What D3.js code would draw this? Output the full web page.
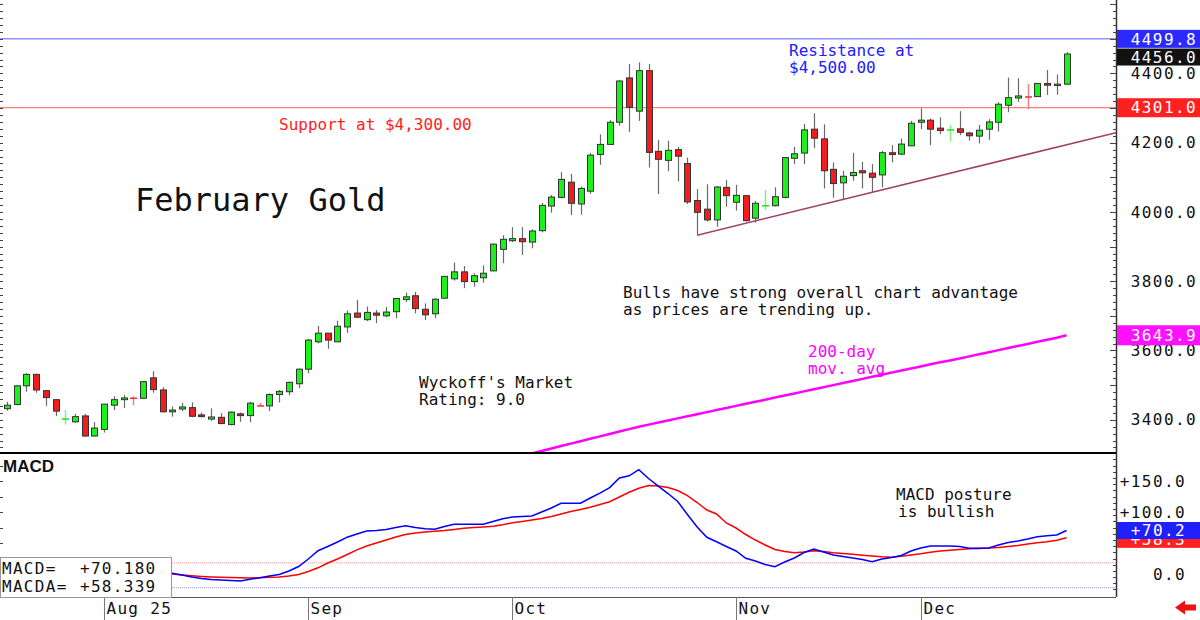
<!DOCTYPE html>
<html><head><meta charset="utf-8">
<script src="https://cdn.jsdelivr.net/npm/d3@7"></script>
<style>body{margin:0;background:#fff;}svg{display:block}</style>
</head><body><svg id="c" width="1200" height="620"></svg>
<script>
// ---- DATA ----
const holidays = ["2025-09-01","2025-11-27"];
const opens  = [3432,3444,3498,3531,3484,3458,3401,3394,3411,3353,3372,3442,3458,3463,3462,3521,3486,3423,3431,3435,
 3414,3402,3407,3386,3417,3412,3441,3440,3473,3481,3504,3546,3625,3650,3625,3668,3708,3689,3708,3700,
 3712,3747,3758,3719,3706,3751,3807,3827,3799,3810,3830,3892,3917,3923,3913,3946,4017,4042,4086,4023,
 4060,4166,4195,4259,4387,4291,4408,4175,4149,4180,4140,4033,4008,3977,4071,4028,4047,3982,4017,4018,
 4042,4155,4170,4239,4211,4123,4084,4105,4119,4112,4107,4171,4167,4191,4259,4265,4242,4236,4240,4228,
 4219,4239,4259,4308,4329,4333,4333,4371,4365,4369];
const highs  = [3452,3500,3535,3533,3486,3460,3428,3417,3417,3393,3445,3468,3472,3468,3512,3540,3494,3438,3449,3450,
 3421,3433,3419,3424,3421,3452,3449,3476,3486,3510,3548,3633,3671,3651,3686,3715,3746,3727,3717,3726,
 3752,3767,3769,3736,3751,3815,3854,3844,3823,3846,3909,3933,3956,3956,3950,4026,4049,4115,4110,4073,
 4170,4224,4265,4381,4427,4432,4427,4208,4206,4188,4157,4066,4080,4075,4092,4078,4049,4032,4063,4071,
 4159,4188,4254,4285,4253,4143,4119,4171,4145,4138,4176,4193,4212,4263,4299,4270,4273,4251,4291,4232,
 4251,4268,4317,4388,4386,4369,4372,4410,4397,4462];
const lows   = [3426,3442,3481,3478,3440,3411,3386,3391,3351,3351,3363,3428,3434,3442,3460,3478,3421,3409,3425,3407,
 3407,3397,3387,3384,3394,3393,3438,3425,3450,3471,3491,3534,3621,3605,3624,3651,3694,3685,3679,3696,
 3693,3740,3707,3688,3693,3750,3802,3780,3784,3796,3828,3852,3913,3876,3895,3941,3998,4039,3991,3992,
 4052,4136,4193,4249,4231,4263,4128,4052,4118,4088,4023,3933,3972,3957,4015,4004,3972,3969,4006,4016,
 4039,4138,4138,4184,4068,4041,4034,4090,4068,4056,4071,4143,4164,4190,4239,4193,4225,4203,4222,4206,
 4198,4208,4232,4288,4318,4296,4332,4338,4338,4367];
const closes = [3442,3498,3531,3486,3464,3425,3402,3409,3353,3376,3445,3458,3463,3462,3510,3487,3423,3428,3437,3410,
 3409,3408,3389,3422,3412,3448,3440,3473,3482,3508,3546,3630,3650,3630,3670,3706,3696,3710,3702,3711,
 3750,3755,3721,3703,3748,3814,3827,3799,3816,3823,3907,3921,3923,3914,3945,4019,4043,4094,4025,4068,
 4164,4195,4259,4378,4302,4408,4172,4152,4178,4161,4029,3999,3977,4072,4047,4048,3975,4025,4018,4044,
 4157,4168,4237,4213,4119,4082,4103,4114,4113,4100,4171,4166,4196,4256,4265,4239,4235,4237,4230,4220,
 4236,4260,4311,4330,4335,4332,4371,4366,4369,4456];

const maStart = 53;
const ma200 = [3296,3303,3310,3317,3324,3331,3338,3345,3352,3359,3366,3373,3380,3386,3392,3398,3404,3410,3416,3422,
 3428,3434,3440,3446,3452,3458,3464,3470,3476,3482,3488,3494,3500,3506,3512,3518,3524,3530,3536,3542,
 3548,3554,3560,3566,3571,3577,3583,3589,3595,3601,3607,3613,3619,3625,3631,3637,3643.9];

const macdStart = 16;
const macd = [1.6,1.1,-1.6,-4.8,-7.3,-8.9,-9.7,-10.5,-11.3,-8.5,-6.0,-3.2,-0.8,4.8,12.1,24.2,37.6,44.4,51.6,59.4,
 64.5,69.4,70.2,71.8,75.0,77.7,75.0,72.9,72.1,76.6,80.2,80.2,80.2,80.2,84.7,89.2,91.9,92.7,93.5,100.0,
 106.5,114.0,114.0,114.2,122.6,130.6,139.5,154.8,158.4,168.2,154.0,141.9,129.8,116.9,96.0,75.8,59.2,52.1,44.4,37.1,
 25.3,21.0,15.3,11.8,19.4,25.8,34.7,40.3,35.5,30.6,28.2,25.8,23.4,19.8,24.2,26.6,29.8,37.1,41.9,45.2,
 45.2,45.2,44.4,41.6,41.5,41.9,46.8,50.8,53.2,56.5,60.2,61.6,62.9,70.18];
const macda = [0.8,0,-1.6,-2.9,-4.0,-4.8,-5.3,-5.8,-6.1,-6.5,-6.0,-5.3,-4.8,-3.2,-0.8,4.0,10.0,17.7,24.2,31.5,
 39.0,45.2,50.0,54.8,59.7,63.7,66.1,67.7,68.9,70.0,71.8,73.7,75.0,75.8,76.9,79.4,82.6,84.7,87.1,89.5,
 92.9,96.8,100.8,104.0,107.6,112.1,116.5,124.2,131.9,138.2,142.7,141.9,139.5,134.7,126.6,115.3,103.2,96.8,82.3,74.2,
 63.7,54.8,46.8,39.5,36.3,34.4,35.5,37.6,36.3,34.4,33.1,31.8,30.3,29.0,27.7,26.9,28.7,30.6,32.6,35.0,
 37.1,38.2,39.5,40.6,41.1,41.9,42.7,44.4,46.0,48.4,50.3,52.1,54.4,58.339];

const priceTicks = [3400,3600,3800,4000,4200,4400];
const macdTicks = [0,100,150];
const monthLabels = ["Aug 25","Sep","Oct","Nov","Dec"];
const resistance = 4499.8, support = 4301.0, lastPrice = 4456.0;
const trend = [{i:71, p:3933}, {i:109, p:4194}];
const macdBands = [18, -22];

// ---- SCALES ----
const fmtD = d3.timeFormat("%Y-%m-%d");
const dates = d3.timeDay.range(new Date(2025,6,18), new Date(2025,11,23))
  .filter(d => d.getDay()%6!==0 && !holidays.includes(fmtD(d)));

const W = 1116, mainB = 453, macdB = 597;
const x = d3.scaleLinear().domain([-0.72, 114.09]).range([0, W]);
const y = d3.scaleLinear().domain([3304, 4612]).range([mainB, 0]);
const ym = d3.scaleLinear().domain([-37.1, 195.2]).range([macdB, mainB]);

const svg = d3.select("#c");
const mono = "'DejaVu Sans Mono', monospace";
svg.append("rect").attr("width",1200).attr("height",620).attr("fill","#fff");

const defs = svg.append("defs");
defs.append("clipPath").attr("id","cm").append("rect").attr("x",0).attr("y",0).attr("width",W).attr("height",mainB);
defs.append("clipPath").attr("id","cd").append("rect").attr("x",0).attr("y",mainB).attr("width",W).attr("height",macdB-mainB);

const gMain = svg.append("g").attr("clip-path","url(#cm)");
const gMacd = svg.append("g").attr("clip-path","url(#cd)");

// horizontal lines
gMain.append("line").attr("x1",0).attr("x2",W).attr("y1",y(resistance)).attr("y2",y(resistance))
  .attr("stroke","#5a5aff").attr("stroke-width",1);
gMain.append("line").attr("x1",0).attr("x2",W).attr("y1",y(support)).attr("y2",y(support))
  .attr("stroke","#ff7a7a").attr("stroke-width",1.2);

// trendline extended to right edge
const slope = (trend[1].p-trend[0].p)/(trend[1].i-trend[0].i);
const iEnd = x.domain()[1];
gMain.append("line").attr("x1",x(trend[0].i)).attr("y1",y(trend[0].p))
  .attr("x2",x(iEnd)).attr("y2",y(trend[0].p + slope*(iEnd-trend[0].i)))
  .attr("stroke","#a0406a").attr("stroke-width",1.5);

// 200-day MA
gMain.append("path").datum(ma200)
  .attr("d", d3.line().x((d,k)=>x(maStart+k)).y(d=>y(d)))
  .attr("fill","none").attr("stroke","#ff00ff").attr("stroke-width",2.5);

// candles
const bars = opens.map((o,i)=>({i,o,h:highs[i],l:lows[i],c:closes[i]}));
const cg = gMain.selectAll("g.c").data(bars).join("g");
cg.each(function(d){
  const g = d3.select(this);
  const cx = Math.round(x(d.i))+0.5;
  const up = d.c >= d.o;
  const doji = Math.abs(d.c-d.o) <= 1.5;
  if (doji) {
    const col = up ? "#80f080" : "#f08080";
    g.append("line").attr("x1",cx).attr("x2",cx).attr("y1",y(d.h)).attr("y2",y(d.l)).attr("stroke",col).attr("stroke-width",1.5);
    g.append("line").attr("x1",cx-3.5).attr("x2",cx+3.5).attr("y1",y(d.c)).attr("y2",y(d.c)).attr("stroke",up?"#20e020":"#f03030").attr("stroke-width",1.5);
  } else {
    g.append("line").attr("x1",cx).attr("x2",cx).attr("y1",y(d.h)).attr("y2",y(d.l)).attr("stroke","#6a6a6a").attr("stroke-width",1.2);
    const top = y(Math.max(d.o,d.c)), bot = y(Math.min(d.o,d.c));
    g.append("rect").attr("x",cx-3).attr("width",6).attr("y",top).attr("height",Math.max(1,bot-top))
      .attr("fill", up ? "#1ef01e" : "#f01e1e").attr("stroke","#333").attr("stroke-width",1);
  }
});

// MACD bands
macdBands.forEach((v,k)=>{
  gMacd.append("line").attr("x1",0).attr("x2",W).attr("y1",ym(v)).attr("y2",ym(v))
    .attr("stroke", k===0 ? "#ff9a9a" : "#9a9aff").attr("stroke-width",1).attr("stroke-dasharray","1,1");
});
gMacd.append("path").datum(macda).attr("d", d3.line().x((d,k)=>x(macdStart+k)).y(d=>ym(d)))
  .attr("fill","none").attr("stroke","#ff0000").attr("stroke-width",1.5);
gMacd.append("path").datum(macd).attr("d", d3.line().x((d,k)=>x(macdStart+k)).y(d=>ym(d)))
  .attr("fill","none").attr("stroke","#0000ff").attr("stroke-width",1.5);

// frame lines
svg.append("line").attr("x1",0).attr("x2",W).attr("y1",mainB).attr("y2",mainB).attr("stroke","#000").attr("stroke-width",2);
svg.append("line").attr("x1",0).attr("x2",W).attr("y1",macdB+0.5).attr("y2",macdB+0.5).attr("stroke","#555").attr("stroke-width",1);
svg.append("line").attr("x1",W+0.5).attr("x2",W+0.5).attr("y1",0).attr("y2",macdB).attr("stroke","#333").attr("stroke-width",1.5);

// minor ticks (right and left)
const minorMain = d3.range(3320, 4612, 20);
const minorMacd = d3.range(-25, 195, 10);
const tickG = svg.append("g").attr("stroke","#444").attr("stroke-width",1);
minorMain.forEach(v=>{
  const yy = Math.round(y(v))+0.5, len = v%100===0 ? 6 : 3;
  tickG.append("line").attr("x1",W-len).attr("x2",W).attr("y1",yy).attr("y2",yy);
  tickG.append("line").attr("x1",0).attr("x2",3).attr("y1",yy).attr("y2",yy);
});
minorMacd.forEach(v=>{
  const yy = Math.round(ym(v))+0.5, len = v%50===0 ? 6 : 3;
  tickG.append("line").attr("x1",W-len).attr("x2",W).attr("y1",yy).attr("y2",yy);
});
d3.range(-25, 195, 25).forEach(v=>{
  const yy = Math.round(ym(v))+0.5;
  tickG.append("line").attr("x1",0).attr("x2",3).attr("y1",yy).attr("y2",yy);
});

// right axis labels via d3 axis
const axMain = svg.append("g").attr("transform",`translate(${W},0)`)
  .call(d3.axisRight(y).tickValues(priceTicks).tickSize(0).tickFormat(d3.format(".1f")));
axMain.select(".domain").remove();
axMain.selectAll("text").attr("x",81).attr("text-anchor","end").attr("font-family",mono)
  .attr("font-size",16).attr("letter-spacing","1.4px").attr("fill","#111");
const fmtM = v => v===0 ? "0.0" : "+"+d3.format(".1f")(v);
const axMacd = svg.append("g").attr("transform",`translate(${W},0)`)
  .call(d3.axisRight(ym).tickValues(macdTicks).tickSize(0).tickFormat(fmtM));
axMacd.select(".domain").remove();
axMacd.selectAll("text").attr("x",70).attr("text-anchor","end").attr("font-family",mono)
  .attr("font-size",16).attr("letter-spacing","1.4px").attr("fill","#111");

// value boxes
function box(yc, txt, bg, xr, h){
  const g = svg.append("g");
  g.append("rect").attr("x",W+1).attr("y",yc-h/2).attr("width",1200-W-1).attr("height",h).attr("fill",bg);
  g.append("text").attr("x",xr).attr("y",yc).attr("dy","0.36em").attr("text-anchor","end")
    .attr("font-family",mono).attr("font-size",16).attr("letter-spacing","1.4px").attr("fill","#fff").text(txt);
}
box(y(support), d3.format(".1f")(support), "#ff2020", 1197, 19);
box(y(lastPrice)+3, d3.format(".1f")(lastPrice), "#111", 1197, 17);
box(y(resistance), d3.format(".1f")(resistance), "#2a2aff", 1197, 18);
box(y(ma200[ma200.length-1]), d3.format(".1f")(ma200[ma200.length-1]), "#ff10ff", 1197, 20);
box(ym(macda[macda.length-1])+1, fmtM(macda[macda.length-1]), "#ff2020", 1186, 18);
box(ym(macd[macd.length-1]), fmtM(macd[macd.length-1]), "#2020ff", 1186, 17);

// x axis month ticks
const monthIdx = dates.map((d,i)=>i).filter(i => i>0 && dates[i].getMonth()!==dates[i-1].getMonth());
const xg = svg.append("g");
monthIdx.forEach((i,k)=>{
  const xx = Math.round(x(i))+0.5;
  xg.append("line").attr("x1",xx).attr("x2",xx).attr("y1",macdB).attr("y2",620).attr("stroke","#777").attr("stroke-width",1);
  xg.append("text").attr("x",xx+2).attr("y",614).attr("font-family",mono).attr("font-size",16)
    .attr("letter-spacing","1.3px").attr("fill","#111").text(monthLabels[k]);
});

// MACD legend box
svg.append("rect").attr("x",0.5).attr("y",557.5).attr("width",171).attr("height",40).attr("fill","#fff").attr("stroke","#999");
[["MACD=",macd[macd.length-1],574],["MACDA=",macda[macda.length-1],592]].forEach(([lab,v,yy])=>{
  svg.append("text").attr("x",2).attr("y",yy).attr("font-family",mono).attr("font-size",16).attr("letter-spacing","1.3px").attr("fill","#111").text(lab);
  svg.append("text").attr("x",80).attr("y",yy).attr("font-family",mono).attr("font-size",16).attr("letter-spacing","1.3px").attr("fill","#111").text("+"+d3.format(".3f")(v));
});
svg.append("text").attr("x",3).attr("y",472).attr("font-family","'Liberation Sans', Arial, sans-serif")
  .attr("font-weight","bold").attr("font-size",17).attr("fill","#111").text("MACD");

// annotations
function note(xx, yy, lines, col, size){
  lines.forEach((t,k)=>svg.append("text").attr("x",xx).attr("y",yy+k*17).attr("font-family",mono)
    .attr("font-size",size||16).attr("fill",col).attr("xml:space","preserve").text(t));
}
note(789, 56, ["Resistance at","$4,500.00"], "#2020ff");
note(279, 130, ["Support at $4,300.00"], "#ff2020");
note(623, 298, ["Bulls have strong overall chart advantage","as prices are trending up."], "#111");
note(419, 388, ["Wyckoff's Market","Rating: 9.0"], "#111");
note(808, 357, ["200-day","mov. avg."], "#ff00ff");
note(896, 500, ["MACD posture"], "#111");
note(898, 517, ["is bullish"], "#111");
svg.append("text").attr("x",135).attr("y",211).attr("font-family",mono).attr("font-size",32)
  .attr("fill","#111").text("February Gold");

// red arrow
svg.append("path").attr("d","M1175,607.5 L1185,600.5 L1185,604.5 L1196,604.5 L1196,610.5 L1185,610.5 L1185,614.5 Z").attr("fill","#ee1111");
</script></body></html>
